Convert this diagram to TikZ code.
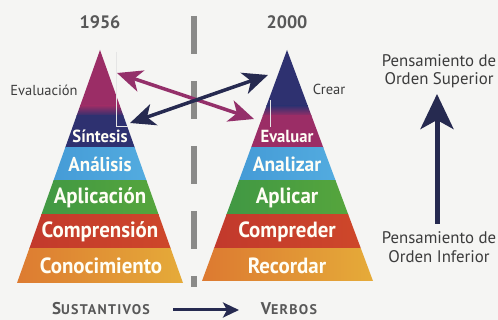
\documentclass[tikz,border=0pt]{standalone}
\usepackage{fontspec}
\setmainfont{PT Sans}
\newfontfamily\labfont[FakeStretch=0.95]{PT Sans}
\usetikzlibrary{arrows.meta}
\definecolor{bgc}{HTML}{F5F5F3}
\definecolor{cmag}{HTML}{9B2D66}
\definecolor{cnavy}{HTML}{2E3170}
\definecolor{cblueA}{HTML}{3E93D2}
\definecolor{cblueB}{HTML}{5AB4E4}
\definecolor{cgreenA}{HTML}{3A9446}
\definecolor{cgreenB}{HTML}{5DAA3A}
\definecolor{credA}{HTML}{C0372C}
\definecolor{credB}{HTML}{D04A2A}
\definecolor{corA}{HTML}{DC7630}
\definecolor{corB}{HTML}{E6B03A}
\definecolor{cdiv}{HTML}{8A8A88}
\definecolor{ctext}{HTML}{3C3C3C}
\definecolor{cyear}{HTML}{585858}
\definecolor{carrow}{HTML}{262A50}
\definecolor{cmagarr}{HTML}{94306A}
\begin{document}
\begin{tikzpicture}[x=1pt,y=-1pt,
  plab/.style={font=\labfont\bfseries\fontsize{22}{22}\selectfont, text=white!96!yellow, inner sep=0pt},
  plabs/.style={plab, font=\labfont\bfseries\fontsize{17.5}{18}\selectfont},
  plabm/.style={plab, font=\labfont\bfseries\fontsize{20}{20}\selectfont},
  slab/.style={font=\fontsize{14.5}{16}\selectfont, text=ctext, inner sep=0pt, align=center},
  rlab/.style={font=\fontsize{16.8}{18.5}\selectfont, text=ctext, inner sep=0pt, align=center},
  year/.style={font=\bfseries\fontsize{18}{18}\selectfont, text=cyear, inner sep=0pt},
  dblarrow/.style={line width=3.5pt, {Stealth[length=25pt,width=22pt,inset=7pt]}-{Stealth[length=25pt,width=22pt,inset=7pt]}},
  leader/.style={draw=white!80!gray, line width=0.6pt}]
\useasboundingbox (0,0) rectangle (498,320);
\fill[bgc] (0,0) rectangle (498,320);

% left pyramid
\begin{scope}
\clip (100,50) -- (183,283) -- (17,283) -- cycle;
\fill[cmag] (0,40) rectangle (200,106);
\shade[top color=cmag, bottom color=cnavy] (0,105.5) rectangle (200,116);
\fill[cnavy] (0,115.5) rectangle (200,148);
\shade[left color=cblueA, right color=cblueB] (0,147.5) rectangle (200,181);
\shade[left color=cgreenA, right color=cgreenB] (0,180.5) rectangle (200,215);
\shade[left color=credA, right color=credB] (0,214.5) rectangle (200,249);
\shade[left color=corA, right color=corB] (0,248.5) rectangle (200,290);
\end{scope}

% right pyramid
\begin{scope}
\clip (287,50) -- (373,281) -- (202,281) -- cycle;
\fill[cnavy] (190,40) rectangle (390,106);
\shade[top color=cnavy, bottom color=cmag] (190,105.5) rectangle (390,116);
\fill[cmag] (190,115.5) rectangle (390,148);
\shade[left color=cblueA, right color=cblueB] (190,147.5) rectangle (390,181);
\shade[left color=cgreenA, right color=cgreenB] (190,180.5) rectangle (390,215);
\shade[left color=credA, right color=credB] (190,214.5) rectangle (390,249);
\shade[left color=corA, right color=corB] (190,248.5) rectangle (390,290);
\end{scope}

% leader lines
\draw[leader] (116,52) -- (116,126) -- (128,126);
\draw[leader] (270,100) -- (270,127);

% pyramid labels
\node[plabs] (sin) at (100,136) {Síntesis};
\node[plabm] (ana) at (100,164) {Análisis};
\node[plab] (apl) at (100,198) {Aplicación};
\node[plab] (com) at (100,232) {Comprensión};
\node[plab] (con) at (101,266) {Conocimiento};
\node[plabs] (eva) at (287,136) {Evaluar};
\node[plab, font=\labfont\bfseries\fontsize{20.5}{21}\selectfont] (anz) at (287,164) {Analizar};
\node[plab] (apc) at (287,198) {Aplicar};
\node[plab] (cmp) at (287,232) {Compreder};
\node[plab] (rec) at (287,266) {Recordar};

% side labels
\node[slab] (evn) at (44,90) {Evaluación};
\node[slab] (cre) at (329,89) {Crear};
\node[year] (y1) at (100,22) {1956};
\node[year] (y2) at (287,22) {2000};

% divider
\draw[cdiv, line width=6pt, dash pattern=on 38pt off 27pt] (194,16) -- (194,287);

% crossing arrows
\coordinate (m1) at (117,73);
\coordinate (m2) at (254,119);
\coordinate (n1) at (130,123);
\coordinate (n2) at (268,75);
\draw[dblarrow, cmagarr] (m1) -- (m2);
\draw[dblarrow, carrow] (n1) -- (n2);

% right side
\node[rlab] (sup) at (439,71) {Pensamiento de\\Orden Superior};
\node[rlab] (inf) at (439,247) {Pensamiento de\\Orden Inferior};
\coordinate (ua) at (437,224);
\coordinate (ub) at (437,94);
\draw[carrow, line width=5pt, -{Stealth[length=35pt,width=33pt,inset=9pt]}] (ua) -- (ub);

% bottom
\node[font=\bfseries, text=cyear, inner sep=0pt] (sus) at (101,309)
  {{\fontsize{17}{17}\selectfont S}{\fontsize{14}{14}\selectfont\addfontfeature{LetterSpace=9}USTANTIVOS}};
\node[font=\bfseries, text=cyear, inner sep=0pt] (ver) at (289,309)
  {{\fontsize{17}{17}\selectfont V}{\fontsize{14}{14}\selectfont\addfontfeature{LetterSpace=9}ERBOS}};
\draw[carrow, line width=3pt, -{Stealth[length=16pt,width=15pt,inset=4pt]}] (173,310) -- (239,310);
\end{tikzpicture}
\end{document}
